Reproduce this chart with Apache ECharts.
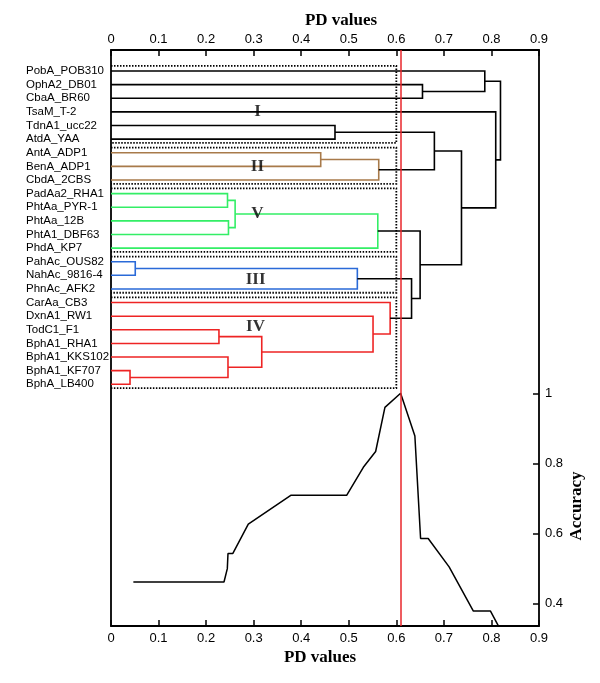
<!DOCTYPE html>
<html><head><meta charset="utf-8">
<script src="https://cdn.jsdelivr.net/npm/echarts@6/dist/echarts.min.js"></script>
<style>html,body{margin:0;padding:0;background:#fff}#c{width:600px;height:683px}</style>
</head><body><div id="c"></div>
<script>
// ---- data ----
const leaves = ['PobA_POB310','OphA2_DB01','CbaA_BR60','TsaM_T-2','TdnA1_ucc22','AtdA_YAA',
  'AntA_ADP1','BenA_ADP1','CbdA_2CBS','PadAa2_RHA1','PhtAa_PYR-1','PhtAa_12B','PhtA1_DBF63',
  'PhdA_KP7','PahAc_OUS82','NahAc_9816-4','PhnAc_AFK2','CarAa_CB3','DxnA1_RW1','TodC1_F1',
  'BphA1_RHA1','BphA1_KKS102','BphA1_KF707','BphA_LB400'];
// merge rows: [child A, child B, PD height]; leaf ids 0..23, merge k gets id 24+k
const mergeA = [1, 0, 4, 6, 27, 26, 9, 11, 30, 32, 14, 34, 22, 21, 19, 38, 18, 17, 35, 33, 29, 3, 25];
const mergeB = [2, 24, 5, 7, 8, 28, 10, 12, 31, 13, 15, 16, 23, 36, 20, 37, 39, 40, 41, 42, 43, 44, 45];
const mergeH = [0.655, 0.786, 0.471, 0.441, 0.563, 0.680, 0.245, 0.247, 0.261, 0.561, 0.051, 0.518,
  0.040, 0.246, 0.227, 0.317, 0.551, 0.587, 0.632, 0.650, 0.737, 0.809, 0.819];
// coloured clusters (root merge id, colour)
const coloredRoots = [28, 33, 35, 41];
const coloredCols = ['#a87a4a', '#33ee66', '#2a6ad8', '#ee2424'];
// groups (dotted boxes)
const groupNames = ['I', 'II', 'V', 'III', 'IV'];
const groupFirst = [0, 6, 9, 14, 17];
const groupLast = [5, 8, 13, 16, 23];
const groupLabelPD = [0.308, 0.308, 0.308, 0.304, 0.304];
const groupLabelRow = [3.0, 7.05, 10.5, 15.35, 18.8];
const boxPD = 0.6;
const cutPD = 0.609;
// accuracy curve
const accPD = [0.047, 0.2376, 0.2446, 0.246, 0.256, 0.2887, 0.378, 0.4955, 0.5306, 0.5565, 0.576, 0.609,
  0.639, 0.651, 0.667, 0.711, 0.762, 0.798, 0.814];
const accVal = [0.462, 0.462, 0.50, 0.543, 0.543, 0.627, 0.709, 0.709, 0.789, 0.834, 0.96, 1.0,
  0.878, 0.586, 0.586, 0.505, 0.379, 0.379, 0.338];
const accMin = 0.4, accMax = 1, accStep = 0.2;

// ---- build ----
const N = leaves.length;
const nodeX = [], nodeY = [];
for (let i = 0; i < N; i++) { nodeX[i] = 0; nodeY[i] = i; }
mergeH.forEach((h, k) => { nodeX[N + k] = h; nodeY[N + k] = (nodeY[mergeA[k]] + nodeY[mergeB[k]]) / 2; });
const nodeColor = {};
function paint(id, c) { nodeColor[id] = c; if (id >= N) { paint(mergeA[id - N], c); paint(mergeB[id - N], c); } }
coloredRoots.forEach((r, i) => paint(r, coloredCols[i]));
const segs = mergeH.map((h, k) => {
  const a = mergeA[k], b = mergeB[k], c = nodeColor[N + k] || '#000';
  return { coords: [[nodeX[a], nodeY[a]], [h, nodeY[a]], [h, nodeY[b]], [nodeX[b], nodeY[b]]], lineStyle: { color: c } };
});
const boxes = groupFirst.map((f, i) => ({
  coords: [[0, f - 0.38], [boxPD, f - 0.38], [boxPD, groupLast[i] + 0.28], [0, groupLast[i] + 0.28]]
}));
const romans = groupNames.map((n, i) => ({ name: n, value: [groupLabelPD[i], groupLabelRow[i]] }));

const FONT = 'Liberation Sans, Arial, sans-serif';
const SERIF = 'Liberation Serif, Times New Roman, serif';
const axLine = () => ({ show: true, onZero: false, lineStyle: { color: '#000', width: 1.8 } });
const tick = () => ({ show: true, inside: true, length: 6, lineStyle: { color: '#000', width: 1.5 } });
const pdFmt = v => v === 0 ? '0' : v.toFixed(1);

const chart = echarts.init(document.getElementById('c'), null, { renderer: 'canvas' });
chart.setOption({
  animation: false,
  backgroundColor: '#fff',
  grid: [
    { left: 111, right: 61, top: 50, bottom: 57 },
    { left: 111, right: 61, top: 64.2, height: 326.9 },
    { left: 111, right: 61, top: 393.3, height: 210.4 }
  ],
  xAxis: [
    { gridIndex: 0, type: 'value', position: 'bottom', min: 0, max: 0.9, interval: 0.1,
      axisLine: axLine(), axisTick: tick(), splitLine: { show: false },
      axisLabel: { color: '#000', fontSize: 13, fontFamily: FONT, margin: 6, formatter: pdFmt } },
    { gridIndex: 0, type: 'value', position: 'top', min: 0, max: 0.9, interval: 0.1,
      axisLine: axLine(), axisTick: tick(), splitLine: { show: false },
      axisLabel: { color: '#000', fontSize: 13, fontFamily: FONT, margin: 4, formatter: pdFmt } },
    { gridIndex: 1, type: 'value', min: 0, max: 0.9, show: false },
    { gridIndex: 2, type: 'value', min: 0, max: 0.9, show: false }
  ],
  yAxis: [
    { gridIndex: 0, type: 'value', position: 'right', min: 0, max: 1,
      axisLine: axLine(), axisTick: { show: false }, axisLabel: { show: false }, splitLine: { show: false } },
    { gridIndex: 0, type: 'value', position: 'left', min: 0, max: 1,
      axisLine: axLine(), axisTick: { show: false }, axisLabel: { show: false }, splitLine: { show: false } },
    { gridIndex: 1, type: 'category', position: 'left', data: leaves, inverse: true,
      axisLine: { show: false, onZero: false }, axisTick: { show: false },
      axisLabel: { align: 'left', margin: 85, color: '#000', fontSize: 11.5, fontFamily: FONT, interval: 0 } },
    { gridIndex: 1, type: 'value', min: -0.5, max: N - 0.5, inverse: true, show: false },
    { gridIndex: 2, type: 'value', position: 'right', min: accMin, max: accMax, interval: accStep,
      axisLine: { show: false, onZero: false }, axisTick: tick(), splitLine: { show: false },
      axisLabel: { color: '#000', fontSize: 13, fontFamily: FONT, margin: 6, formatter: v => String(+v.toFixed(1)) } }
  ],
  series: [
    { type: 'lines', coordinateSystem: 'cartesian2d', xAxisIndex: 2, yAxisIndex: 3, polyline: true,
      lineStyle: { width: 1.8, opacity: 1, type: [1.5, 1.5], color: '#000' }, data: boxes, silent: true, z: 2 },
    { type: 'lines', coordinateSystem: 'cartesian2d', xAxisIndex: 2, yAxisIndex: 3, polyline: true,
      lineStyle: { width: 1.6, opacity: 1 }, data: segs, silent: true, z: 3 },
    { type: 'scatter', xAxisIndex: 2, yAxisIndex: 3, symbolSize: 0, data: romans, silent: true, z: 4,
      label: { show: true, position: 'inside', formatter: p => p.name, color: '#000', fontSize: 17,
        fontWeight: 'bold', fontFamily: SERIF } },
    { type: 'line', xAxisIndex: 3, yAxisIndex: 4, symbol: 'none', silent: true, clip: false,
      data: accPD.map((x, i) => [x, accVal[i]]),
      lineStyle: { color: '#000', width: 1.5 }, z: 3 },
    { type: 'line', xAxisIndex: 0, yAxisIndex: 0, symbol: 'none', silent: true, data: [],
      markLine: { silent: true, symbol: 'none', label: { show: false },
        lineStyle: { color: '#e8262b', type: 'solid', width: 1.5 }, data: [{ xAxis: cutPD }] } }
  ],
  graphic: [
    { type: 'text', x: 341, y: 21, style: { text: 'PD values', font: 'bold 17px ' + SERIF, fill: '#000', align: 'center', verticalAlign: 'middle' } },
    { type: 'text', x: 320, y: 658, style: { text: 'PD values', font: 'bold 17px ' + SERIF, fill: '#000', align: 'center', verticalAlign: 'middle' } },
    { type: 'text', x: 577, y: 506, rotation: Math.PI / 2, style: { text: 'Accuracy', font: 'bold 17px ' + SERIF, fill: '#000', align: 'center', verticalAlign: 'middle' } }
  ]
});
</script></body></html>
